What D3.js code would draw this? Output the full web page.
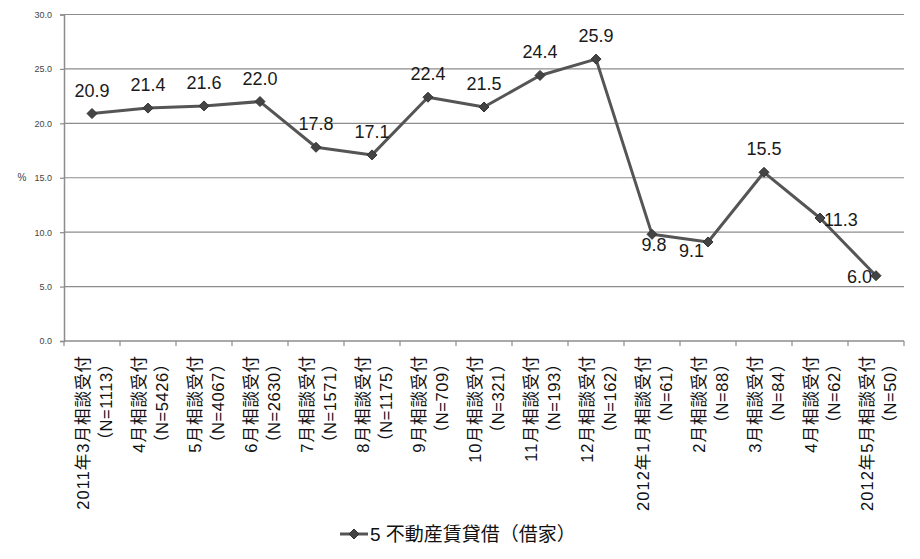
<!DOCTYPE html>
<html><head><meta charset="utf-8">
<script src="https://cdn.jsdelivr.net/npm/d3@7"></script>
<style>
html,body{margin:0;padding:0;background:#fff;}
svg{display:block;}
text{font-family:"Liberation Sans","Noto Sans CJK JP",sans-serif;}
</style></head>
<body>
<script>
const categories = ["2011年3月相談受付","4月相談受付","5月相談受付","6月相談受付","7月相談受付","8月相談受付","9月相談受付","10月相談受付","11月相談受付","12月相談受付","2012年1月相談受付","2月相談受付","3月相談受付","4月相談受付","2012年5月相談受付"];
const sampleSizes = ["（N=1113）","（N=5426）","（N=4067）","（N=2630）","（N=1571）","（N=1175）","（N=709）","（N=321）","（N=193）","（N=162）","（N=61）","（N=88）","（N=84）","（N=62）","（N=50）"];
const values = [20.9,21.4,21.6,22.0,17.8,17.1,22.4,21.5,24.4,25.9,9.8,9.1,15.5,11.3,6.0];
const yTicks = [0,5,10,15,20,25,30];
const seriesName = "5 不動産賃貸借（借家）";
const yTitle = "%";

// label placement per point (style config)
const labelPlace = ["a","a","a","a","a","a","a","a","a","a","b","lb","a","r","l"];

const W = 920, H = 559;
const svg = d3.select("body").append("svg").attr("width", W).attr("height", H);

const idx = d3.range(categories.length);
const x = d3.scaleBand().domain(idx).range([64, 904]);
const cx = i => x(i) + x.bandwidth() / 2;
const y = d3.scaleLinear().domain([0, 30]).range([341, 14.5]);

// gridlines
svg.append("g").selectAll("line").data(yTicks.filter(d => d > 0)).join("line")
  .attr("x1", 64).attr("x2", 904)
  .attr("y1", d => y(d)).attr("y2", d => y(d))
  .attr("stroke", "#8c8c8c").attr("stroke-width", 1.2);

// y axis
const yAxis = d3.axisLeft(y).tickValues(yTicks).tickFormat(d3.format(".1f")).tickSize(4).tickPadding(8);
const gy = svg.append("g").attr("transform", "translate(64,0)").call(yAxis);
gy.select(".domain").attr("stroke", "#8c8c8c").attr("stroke-width", 1.5);
gy.selectAll(".tick line").attr("stroke", "#8c8c8c").attr("stroke-width", 1.2);
gy.selectAll(".tick text").attr("font-size", 9).attr("fill", "#444")
  .attr("font-family", "'Liberation Sans',sans-serif");

svg.append("text").attr("x", 22).attr("y", y(15)).attr("dy", "0.35em")
  .attr("text-anchor", "middle").attr("font-size", 10).attr("fill", "#444").text(yTitle);

// x axis
const gx = svg.append("g").attr("transform", "translate(0,341)");
gx.append("line").attr("x1", 64).attr("x2", 904).attr("stroke", "#8c8c8c").attr("stroke-width", 1.5);
const boundaries = idx.map(i => x(i) + x.bandwidth()).concat([x(0)]);
gx.selectAll("line.tk").data(boundaries).join("line").attr("class", "tk")
  .attr("x1", d => d).attr("x2", d => d).attr("y1", 0).attr("y2", 5)
  .attr("stroke", "#8c8c8c").attr("stroke-width", 1.2);

const lbl = svg.append("g").selectAll("g").data(idx).join("g")
  .attr("transform", i => `translate(${cx(i)},355) rotate(-90)`);
lbl.append("text").attr("text-anchor", "end").attr("y", -9).attr("dominant-baseline", "central")
  .attr("font-size", 16.5).attr("letter-spacing", 1.0).attr("fill", "#111").text(i => categories[i]);
lbl.append("text").attr("text-anchor", "end").attr("y", 14).attr("dominant-baseline", "central")
  .attr("font-size", 16.5).attr("letter-spacing", 0.6).attr("fill", "#111").text(i => sampleSizes[i]);

// line
const pts = idx.map(i => ({i, v: values[i]}));
const line = d3.line().x(d => cx(d.i)).y(d => y(d.v));
svg.append("path").datum(pts).attr("d", line).attr("fill", "none")
  .attr("stroke", "#555").attr("stroke-width", 3).attr("stroke-linejoin", "round");

const diamond = "M0,-5L5,0L0,5L-5,0Z";
svg.append("g").selectAll("path").data(pts).join("path")
  .attr("transform", d => `translate(${cx(d.i)},${y(d.v)})`)
  .attr("d", diamond).attr("fill", "#444").attr("stroke", "#333").attr("stroke-width", 1);

// data labels
svg.append("g").selectAll("text").data(pts).join("text")
  .attr("font-size", 18).attr("fill", "#1a1a1a")
  .each(function (d) {
    const px = cx(d.i), py = y(d.v);
    const p = labelPlace[d.i];
    const t = d3.select(this).text(d3.format(".1f")(d.v));
    if (p === "a") t.attr("x", px).attr("y", py - 17).attr("text-anchor", "middle");
    else if (p === "b") t.attr("x", px + 2).attr("y", py + 17).attr("text-anchor", "middle");
    else if (p === "lb") t.attr("x", px - 4).attr("y", py + 15).attr("text-anchor", "end");
    else if (p === "r") t.attr("x", px + 4).attr("y", py + 8).attr("text-anchor", "start");
    else if (p === "l") t.attr("x", px - 4).attr("y", py + 7).attr("text-anchor", "end");
  });

// legend
const lg = svg.append("g").attr("transform", "translate(340,534)");
lg.append("line").attr("x1", 0).attr("x2", 28).attr("stroke", "#555").attr("stroke-width", 3);
lg.append("path").attr("transform", "translate(14,0)").attr("d", diamond).attr("fill", "#444").attr("stroke", "#333");
lg.append("text").attr("x", 30).attr("y", 0).attr("dy", "0.36em").attr("font-size", 19).attr("fill", "#111").text(seriesName);
</script>
</body></html>
